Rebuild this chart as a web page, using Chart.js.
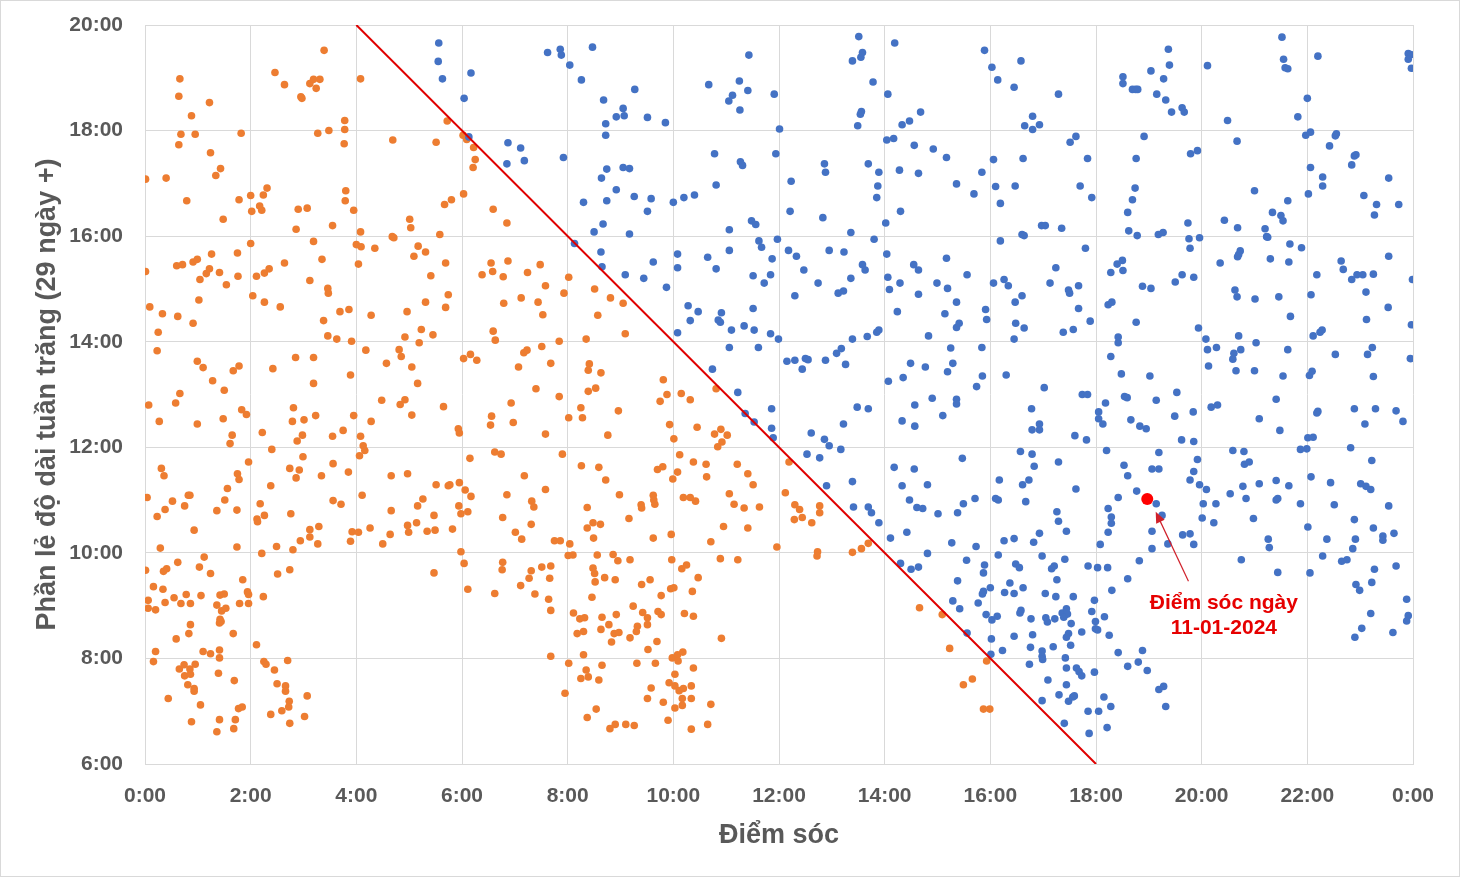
<!DOCTYPE html>
<html>
<head>
<meta charset="utf-8">
<script src="https://cdn.jsdelivr.net/npm/chart.js@4.4.1/dist/chart.umd.min.js"></script>
<style>
  html, body { margin: 0; padding: 0; background: #fff; }
  canvas { display: block; }
</style>
</head>
<body>
<canvas id="moonCanvas" width="1460" height="877"></canvas>
<script>
// Tick labels
const hourLabels = ['0:00', '2:00', '4:00', '6:00', '8:00', '10:00', '12:00', '14:00', '16:00', '18:00', '20:00', '22:00', '0:00'];
const fracLabels = ['6:00', '8:00', '10:00', '12:00', '14:00', '16:00', '18:00', '20:00'];

// [điểm sóc (giờ), phần lẻ độ dài tuần trăng (giờ)]
const orangePoints = [
    [3.39,19.52],[0.66,18.98],[2.46,19.10],[2.64,18.87],[3.12,18.89],[3.19,18.97],[3.31,18.97],[3.24,18.80],[2.95,18.64],[2.97,18.61],
    [0.64,18.65],[1.22,18.53],[0.88,18.28],[0.68,17.93],[0.95,17.93],[1.82,17.95],[0.64,17.73],[1.24,17.58],[3.78,18.19],[3.27,17.95],
    [3.48,18.00],[3.78,18.02],[3.77,17.75],[1.43,17.28],[1.34,17.15],[0.01,17.08],[0.40,17.10],[0.79,16.67],[1.48,16.32],[1.78,16.69],
    [2.00,16.77],[2.17,16.57],[2.21,16.49],[2.02,16.47],[2.24,16.78],[2.31,16.91],[2.90,16.51],[3.07,16.53],[2.86,16.13],[3.55,16.20],
    [3.80,16.86],[3.79,16.67],[3.95,16.49],[3.19,15.90],[2.00,15.86],[0.01,15.33],[0.60,15.44],[0.71,15.46],[0.91,15.51],[0.99,15.56],
    [1.26,15.66],[1.16,15.29],[1.22,15.38],[1.04,15.18],[1.41,15.31],[1.54,15.08],[1.75,15.68],[1.76,15.24],[1.02,14.79],[0.09,14.66],
    [0.33,14.53],[0.62,14.48],[0.25,14.18],[0.91,14.35],[2.04,14.87],[2.11,15.24],[2.26,15.30],[2.35,15.38],[2.26,14.75],[2.56,14.66],
    [2.64,15.49],[3.12,15.16],[3.35,15.56],[3.46,15.01],[3.47,14.92],[3.38,14.40],[3.69,14.57],[3.86,14.61],[3.46,14.11],[3.63,14.05],
    [3.91,14.01],[0.23,13.83],[0.99,13.63],[1.10,13.51],[1.28,13.26],[1.67,13.45],[1.78,13.54],[1.50,13.08],[0.66,13.02],[2.42,13.49],
    [2.85,13.70],[3.19,13.70],[3.19,13.21],[3.89,13.37],
    [0.07,12.80],[0.58,12.84],[0.27,12.49],[0.99,12.44],[1.48,12.54],[1.83,12.71],[1.92,12.62],[1.65,12.23],[1.61,12.07],[2.22,12.28],
    [2.81,12.75],[2.79,12.49],[3.01,12.52],[3.23,12.60],[2.98,12.23],[2.88,12.12],[3.55,12.21],[3.75,12.32],[3.95,12.60],[0.31,11.60],
    [0.36,11.46],[0.04,11.05],[0.23,10.69],[0.38,10.82],[0.52,10.98],[0.75,10.89],[0.82,11.09],[0.85,11.09],[0.93,10.43],[1.36,10.80],
    [1.51,11.00],[1.56,11.22],[1.75,11.50],[1.78,11.39],[1.96,11.72],[1.74,10.81],[0.29,10.09],[1.74,10.11],[2.40,11.96],[2.99,11.82],
    [2.74,11.60],[2.92,11.57],[2.86,11.42],[3.34,11.46],[3.56,11.69],[3.85,11.53],[2.38,11.27],[2.18,10.93],[2.12,10.64],[2.13,10.59],
    [2.26,10.71],[2.76,10.74],[3.56,10.99],[3.71,10.92],[3.12,10.44],[3.29,10.50],[3.12,10.30],[3.27,10.17],[2.94,10.23],[2.80,10.06],
    [2.49,10.12],[2.21,9.99],[3.92,10.40],[3.89,10.22],[0.01,9.67],[0.35,9.65],[0.41,9.70],[0.62,9.82],[1.12,9.92],[1.03,9.73],
    [1.24,9.61],[0.16,9.36],[0.34,9.31],[0.06,9.10],[0.55,9.15],[0.78,9.21],[1.06,9.19],[1.42,9.20],[1.50,9.22],[1.36,9.01],
    [1.45,8.90],[1.53,8.95],[1.85,9.49],[1.94,9.26],[1.96,9.21],[0.06,8.95],[0.20,8.92],[0.38,9.06],[0.68,9.04],[0.86,9.04],
    [1.79,9.04],[1.96,9.04],[0.86,8.64],[0.83,8.47],[0.59,8.37],[1.42,8.74],[1.41,8.67],[1.44,8.70],[1.67,8.47],[0.20,8.13],
    [0.16,7.94],[1.10,8.13],[1.24,8.09],[1.41,8.16],[1.41,8.01],[0.65,7.80],[0.74,7.88],[0.75,7.67],[0.86,7.70],[0.85,7.80],
    [0.95,7.89],[0.81,7.50],[0.93,7.43],[0.93,7.38],[1.39,7.72],[1.69,7.58],[0.44,7.24],[1.05,7.12],[1.77,7.05],[1.84,7.08],
    [0.88,6.80],[1.41,6.84],[1.71,6.84],[1.36,6.61],[1.68,6.67],[2.24,9.17],[2.11,8.26],[2.51,9.60],[2.74,9.68],[2.25,7.94],
    [2.29,7.89],[2.45,7.78],[2.70,7.96],[2.50,7.52],[2.66,7.48],[2.66,7.38],[3.07,7.29],[2.73,7.19],[2.72,7.08],[2.59,7.01],
    [2.38,6.94],[2.74,6.77],[3.02,6.90],
    [4.08,18.98],[5.72,18.18],[4.69,17.82],[5.51,17.78],[6.02,17.91],[6.09,17.83],[6.22,17.68],[6.25,17.45],[6.21,17.30],[6.03,16.80],
    [5.67,16.60],[5.80,16.69],[6.59,16.51],[6.85,16.25],[4.08,16.08],[5.01,16.32],[5.03,16.16],[4.68,15.99],[4.71,15.97],[5.58,16.03],
    [4.00,15.84],[4.09,15.80],[4.35,15.77],[5.17,15.81],[5.09,15.62],[5.31,15.70],[4.04,15.47],[5.69,15.49],[5.41,15.25],[5.74,14.89],
    [5.31,14.75],[5.69,14.65],[4.96,14.57],[4.28,14.50],[4.92,14.09],[5.23,14.23],[5.19,13.98],[5.45,14.13],[4.18,13.84],[4.81,13.85],
    [4.85,13.72],[4.57,13.59],[5.05,13.52],[5.16,13.21],[6.55,15.49],[6.58,15.33],[6.38,15.27],[6.78,15.23],[6.87,15.53],[7.24,15.31],
    [7.48,15.46],[7.58,15.06],[7.44,14.75],[7.53,14.51],[7.12,14.83],[6.79,14.73],[8.02,15.22],[7.93,14.92],[6.59,14.20],[6.63,14.03],
    [6.03,13.68],[6.16,13.76],[6.28,13.65],[7.17,13.79],[7.23,13.84],[7.51,13.91],[7.84,14.01],[7.07,13.52],[7.68,13.59],[7.40,13.11],
    [7.84,12.96],
    [4.48,12.89],[4.83,12.81],[4.92,12.90],[5.05,12.61],[5.65,12.77],[4.28,12.49],[4.08,12.21],[4.13,12.03],[4.16,11.94],[4.06,11.84],
    [5.93,12.35],[5.95,12.27],[6.56,12.59],[6.54,12.42],[6.93,12.84],[6.97,12.47],[7.58,12.25],[8.02,12.56],[6.15,11.79],[6.62,11.91],
    [6.74,11.87],[7.90,11.87],[4.66,11.46],[4.97,11.50],[5.51,11.29],[5.74,11.27],[5.77,11.29],[5.95,11.33],[4.11,11.09],[5.26,11.02],
    [5.16,10.89],[4.66,10.80],[5.47,10.71],[6.06,11.19],[6.17,11.07],[5.94,10.89],[5.98,10.74],[6.11,10.78],[7.18,11.46],[6.85,11.10],
    [7.58,11.20],[7.32,10.98],[7.36,10.87],[6.77,10.67],[7.31,10.54],[7.01,10.39],[7.13,10.26],[4.26,10.47],[4.04,10.39],[4.50,10.17],
    [4.64,10.35],[4.97,10.52],[4.99,10.39],[5.14,10.57],[5.34,10.41],[5.49,10.43],[5.82,10.45],[7.75,10.23],[7.86,10.23],[8.04,10.17],
    [8.01,9.95],[5.98,10.02],[6.04,9.80],[6.11,9.31],[5.47,9.62],[6.77,9.82],[6.76,9.68],[6.62,9.23],[7.31,9.66],[7.27,9.52],
    [7.51,9.73],[7.68,9.75],[7.66,9.52],[7.11,9.38],[7.38,9.22],[7.64,9.12],[7.68,8.91],[7.68,8.04],[8.02,7.91],[7.95,7.34],
    [8.51,15.00],[8.81,14.83],[9.05,14.73],[8.57,14.50],[9.09,14.15],[8.35,14.05],[8.41,13.58],[8.39,13.46],[8.63,13.41],[8.39,13.06],
    [8.53,13.12],[9.81,13.28],[10.81,13.11],
    [9.75,12.87],[9.88,13.00],[10.15,13.02],[10.32,12.90],[8.25,12.75],[8.28,12.56],[8.96,12.69],[8.76,12.23],[9.93,12.43],[10.01,12.16],
    [10.45,12.38],[10.78,12.25],[10.90,12.34],[11.02,12.23],[10.92,12.10],[10.84,12.01],[8.26,11.65],[8.59,11.62],[8.72,11.38],[8.98,11.10],
    [8.37,10.86],[9.16,10.65],[9.39,10.91],[9.40,10.85],[9.62,11.09],[9.63,11.00],[9.65,10.92],[9.70,11.58],[9.80,11.63],[8.37,10.47],
    [8.48,10.57],[8.62,10.54],[8.49,10.28],[8.10,9.96],[9.62,10.28],[9.96,10.35],[10.12,11.86],[10.38,11.72],[10.08,11.53],[9.99,11.40],
    [10.62,11.68],[10.63,11.44],[10.19,11.05],[10.32,11.05],[10.42,10.98],[11.21,11.68],[11.41,11.50],[11.51,11.29],[11.06,11.12],[11.15,10.92],
    [11.34,10.85],[11.63,10.87],[10.95,10.50],[11.41,10.47],[10.71,10.21],[11.96,10.11],[10.89,9.89],[11.22,9.87],[8.56,9.96],[8.86,9.97],
    [8.95,9.85],[9.18,9.87],[8.48,9.71],[8.51,9.61],[8.52,9.45],[8.70,9.53],[8.90,9.49],[8.46,9.16],[9.40,9.40],[9.56,9.49],
    [9.97,9.87],[10.16,9.70],[10.25,9.77],[10.47,9.53],[9.95,9.32],[10.01,9.34],[10.36,9.27],[9.77,9.19],[9.24,8.99],[9.42,8.87],
    [9.51,8.77],[9.71,8.89],[9.77,8.83],[9.51,8.64],[9.32,8.61],[9.30,8.51],[9.18,8.39],[9.69,8.32],[9.52,8.17],[8.11,8.86],
    [8.23,8.75],[8.32,8.77],[8.65,8.78],[8.92,8.83],[8.78,8.64],[8.63,8.55],[8.88,8.47],[8.97,8.49],[8.83,8.31],[8.18,8.47],
    [8.30,8.51],[8.30,8.07],[10.21,8.85],[10.38,8.80],[10.91,8.38],[9.98,8.01],[10.08,8.07],[10.18,8.12],[10.09,7.95],[9.31,7.91],
    [9.66,7.91],[8.65,7.87],[8.35,7.78],[8.25,7.62],[8.39,7.65],[8.59,7.59],[10.38,7.82],[10.03,7.70],[9.92,7.54],[10.03,7.48],
    [10.11,7.39],[10.19,7.43],[10.34,7.48],[9.58,7.44],[9.51,7.24],[9.81,7.17],[10.17,7.24],[10.34,7.24],[10.03,7.06],[10.17,7.11],
    [10.71,7.13],[8.54,7.04],[8.37,6.88],[8.80,6.67],[8.90,6.75],[9.10,6.75],[9.26,6.73],[9.90,6.83],[10.34,6.66],[10.65,6.75],
    [12.19,11.72],[12.12,11.14],[12.30,10.91],[12.39,10.82],[12.29,10.63],[12.44,10.67],[12.62,10.57],[12.77,10.89],[12.77,10.76],[12.73,10.02],
    [12.72,9.94],[13.39,10.01],[13.56,10.08],[13.69,10.18],[14.66,8.96],[15.09,8.83],[15.23,8.19],[15.93,7.95],[15.49,7.50],[15.66,7.61],
    [15.87,7.04],[15.99,7.04]
];

const bluePoints = [
    [5.56,19.66],[5.55,19.31],[5.63,18.98],[6.17,19.09],[6.04,18.61],[7.62,19.48],[7.86,19.54],[7.88,19.43],[6.13,17.88],[6.87,17.77],
    [7.11,17.67],[6.85,17.37],[7.18,17.43],[7.92,17.49],
    [8.47,19.58],[8.04,19.24],[8.26,18.96],[9.27,18.78],[8.68,18.58],[9.05,18.42],[9.07,18.28],[8.92,18.26],[9.51,18.25],[9.85,18.15],
    [8.72,18.13],[8.72,17.91],[11.43,19.43],[10.67,18.87],[11.12,18.67],[11.05,18.56],[11.25,18.94],[11.41,18.76],[11.26,18.39],[11.91,18.69],
    [12.01,18.03],[8.74,17.27],[8.64,17.10],[9.05,17.30],[9.17,17.28],[8.92,16.88],[8.74,16.67],[8.30,16.64],[9.26,16.75],[9.58,16.71],
    [9.51,16.47],[8.67,16.23],[8.50,16.08],[9.17,16.04],[8.13,15.86],[10.00,16.64],[10.20,16.73],[10.40,16.78],[10.78,17.56],[10.81,16.97],
    [11.27,17.41],[11.31,17.34],[11.94,17.56],[11.48,16.29],[11.56,16.22],[11.06,16.12],[11.62,15.91],[11.67,15.79],[11.97,15.94],[8.63,15.70],
    [8.65,15.42],[9.09,15.27],[9.44,15.20],[9.62,15.51],[9.87,15.03],[10.08,15.66],[10.08,15.40],[10.65,15.60],[10.81,15.38],[11.06,15.73],
    [11.87,15.57],[11.84,15.27],[11.72,15.11],[11.51,15.25],[10.28,14.68],[10.47,14.57],[10.32,14.40],[10.91,14.55],[10.85,14.41],[10.89,14.37],
    [11.10,14.22],[11.34,14.30],[11.53,14.22],[11.51,14.63],[11.84,14.15],[11.99,14.05],[10.08,14.17],[11.06,13.89],[11.61,13.89],[10.74,13.48],
    [11.22,13.04],[11.36,12.64],[11.53,12.48],[11.86,12.73],[11.86,12.36],[11.89,12.18],
    [13.51,19.78],[13.39,19.32],[13.55,19.39],[13.58,19.48],[13.78,18.92],[13.56,18.36],[13.54,18.31],[13.49,18.09],[14.19,19.66],[14.06,18.69],
    [14.33,18.11],[14.47,18.18],[14.68,18.35],[15.89,19.52],[16.03,19.20],[14.04,17.82],[14.17,17.85],[14.56,17.72],[14.92,17.65],[15.17,17.49],
    [14.28,17.25],[14.64,17.19],[15.36,16.99],[15.69,16.80],[15.84,17.21],[12.86,17.37],[12.88,17.21],[12.23,17.04],[13.69,17.37],[13.89,17.21],
    [13.87,16.95],[13.85,16.73],[12.21,16.47],[12.83,16.35],[13.36,16.07],[14.02,16.25],[14.30,16.47],[13.80,15.94],[12.18,15.73],[12.33,15.62],
    [12.47,15.36],[12.95,15.73],[13.23,15.70],[12.74,15.11],[12.30,14.87],[13.58,15.46],[13.63,15.36],[13.36,15.20],[13.12,14.92],[13.22,14.96],
    [14.04,15.66],[14.06,15.22],[14.09,14.99],[14.29,15.11],[14.64,14.90],[14.24,14.57],[14.55,15.46],[14.64,15.36],[15.17,15.58],[14.99,15.11],
    [15.19,15.01],[15.56,15.27],[15.36,14.75],[15.14,14.53],[15.36,14.27],[15.41,14.35],[15.91,14.61],[15.93,14.42],[14.83,14.11],[13.39,14.05],
    [13.67,14.10],[13.85,14.18],[13.89,14.22],[12.15,13.63],[12.30,13.65],[12.44,13.48],[12.50,13.68],[12.55,13.66],[12.88,13.65],[13.09,13.78],
    [13.18,13.87],[13.26,13.57],[14.07,13.25],[14.35,13.32],[14.49,13.59],[14.77,13.52],[15.25,13.88],[15.29,13.59],[15.19,13.43],[15.84,13.89],
    [15.85,13.35],[15.74,13.15],
    [13.48,12.76],[13.69,12.73],[13.22,12.44],[12.61,12.27],[12.86,12.15],[12.95,12.03],[13.17,11.96],[12.53,11.87],[12.77,11.80],[12.90,11.27],
    [13.39,11.35],[13.41,10.87],[13.69,10.87],[13.75,10.76],[13.89,10.57],[14.33,12.50],[14.57,12.80],[14.57,12.40],[14.90,12.93],[15.10,12.60],
    [15.36,12.91],[15.36,12.82],[15.47,11.79],[14.18,11.62],[14.56,11.59],[14.33,11.27],[14.81,11.29],[14.47,11.00],[14.61,10.86],[14.72,10.84],
    [15.01,10.74],[15.38,10.76],[15.49,10.93],[15.71,11.03],[14.11,10.28],[14.42,10.39],[14.81,9.99],[15.27,10.19],[15.73,10.12],[15.55,9.86],
    [14.30,9.80],[14.50,9.69],[14.64,9.73],[15.89,9.77],[15.87,9.62],[15.38,9.47],[16.00,9.34],[15.87,9.27],[15.85,9.22],[15.77,9.05],
    [15.29,9.09],[15.42,8.94],[15.92,8.83],[16.03,8.73],[15.56,8.48],[16.02,8.37],[16.01,8.08],
    [16.14,18.96],[16.58,19.32],[16.45,18.82],[17.29,18.69],[16.80,18.27],[16.65,18.09],[16.80,18.02],[16.93,18.11],[19.37,19.54],[19.39,19.24],
    [18.51,19.02],[18.51,18.89],[19.04,19.13],[19.28,18.98],[18.69,18.78],[18.75,18.78],[18.79,18.78],[19.15,18.69],[19.32,18.58],[19.43,18.35],
    [19.63,18.43],[19.67,18.35],[16.06,17.45],[16.62,17.47],[17.51,17.78],[17.62,17.89],[17.84,17.47],[16.10,16.94],[16.47,16.95],[16.19,16.62],
    [17.70,16.95],[17.92,16.73],[16.97,16.20],[17.04,16.20],[17.35,16.15],[16.60,16.03],[16.64,16.01],[16.19,15.91],[18.91,17.89],[18.76,17.47],
    [19.79,17.56],[19.92,17.62],[18.74,16.91],[18.69,16.69],[18.60,16.45],[18.62,16.10],[18.78,16.01],[19.18,16.03],[19.27,16.07],[19.74,16.25],
    [19.76,15.95],[19.96,15.97],[19.78,15.77],[17.80,15.77],[17.24,15.40],[16.06,15.11],[16.26,15.18],[16.34,15.06],[16.60,14.87],[16.47,14.75],
    [17.13,15.11],[17.48,14.98],[17.50,14.92],[17.67,15.06],[17.67,14.63],[16.48,14.35],[16.64,14.26],[16.45,14.05],[17.38,14.18],[17.57,14.23],
    [17.89,14.39],[18.40,15.47],[18.50,15.54],[18.51,15.35],[18.28,15.31],[18.88,15.05],[19.04,15.01],[19.50,15.13],[19.63,15.27],[19.85,15.22],
    [18.23,14.70],[18.30,14.75],[18.76,14.37],[19.94,14.26],[18.42,14.09],[18.42,13.98],[18.28,13.72],[18.48,13.39],[19.02,13.35],[19.53,13.04],
    [18.54,12.96],[18.59,12.94],[16.30,13.37],[17.02,13.13],[17.74,13.00],[17.84,13.00],
    [19.14,12.89],[16.78,12.73],[18.18,12.84],[18.05,12.67],[18.05,12.54],[18.13,12.44],[18.66,12.52],[18.83,12.40],[18.95,12.35],[19.49,12.59],
    [19.84,12.67],[19.62,12.14],[19.85,12.11],[16.79,12.33],[16.93,12.44],[16.93,12.33],[17.60,12.22],[17.82,12.14],[16.57,11.92],[16.79,11.87],
    [16.83,11.64],[17.29,11.72],[16.17,11.38],[16.61,11.29],[16.73,11.38],[16.10,11.03],[16.15,11.00],[16.67,10.97],[17.62,11.21],[17.26,10.78],
    [17.29,10.60],[17.44,10.41],[16.93,10.37],[16.82,10.20],[16.26,10.23],[16.45,10.27],[16.15,9.96],[18.20,11.94],[18.53,11.66],[18.60,11.46],
    [19.06,11.59],[19.19,11.59],[19.19,11.90],[18.42,11.05],[18.77,11.17],[19.14,10.93],[19.25,10.71],[18.23,10.84],[18.29,10.68],[18.29,10.56],
    [18.23,10.39],[18.08,10.16],[19.06,10.41],[19.06,10.08],[19.36,10.17],[19.92,11.77],[19.85,11.54],[19.78,11.38],[19.96,11.29],[20.03,10.93],
    [20.01,10.66],[19.64,10.34],[19.78,10.36],[19.85,10.16],[18.82,9.85],[18.60,9.51],[18.30,9.29],[17.85,9.75],[18.03,9.72],[18.22,9.72],
    [17.41,9.88],[17.21,9.75],[17.16,9.70],[16.98,9.94],[16.48,9.79],[16.55,9.72],[17.26,9.49],[16.37,9.43],[16.27,9.25],[16.45,9.23],
    [16.62,9.34],[17.04,9.23],[17.24,9.17],[17.57,9.17],[17.97,9.10],[17.92,8.89],[17.99,8.70],[18.16,8.79],[17.99,8.56],[18.03,8.54],
    [18.25,8.44],[16.56,8.86],[16.58,8.91],[16.77,8.75],[17.05,8.77],[17.08,8.69],[17.22,8.75],[17.36,8.86],[17.44,8.94],[17.46,8.84],
    [17.39,8.78],[17.53,8.66],[17.73,8.50],[17.48,8.47],[17.44,8.40],[16.13,8.80],[16.23,8.15],[16.45,8.42],[16.80,8.45],[16.76,8.21],
    [16.98,8.14],[16.98,8.04],[16.99,7.98],[17.19,8.22],[17.52,8.25],[17.42,8.01],[16.74,7.89],[17.44,7.82],[17.63,7.82],[17.68,7.75],
    [17.73,7.67],[17.97,7.74],[18.42,8.11],[18.60,7.85],[18.80,7.93],[18.88,8.15],[18.97,7.77],[17.09,7.59],[17.44,7.50],[17.30,7.31],
    [17.48,7.19],[17.56,7.27],[17.59,7.29],[16.98,7.20],[18.15,7.27],[18.28,7.09],[17.85,7.00],[18.05,7.00],[19.19,7.41],[19.28,7.47],
    [19.32,7.09],[17.40,6.77],[17.87,6.58],[18.21,6.69],
    [20.11,19.23],[21.52,19.77],[21.55,19.35],[21.58,19.19],[21.63,19.17],[22.20,19.41],[23.91,19.46],[23.96,19.44],[23.91,19.35],[23.97,19.18],
    [22.00,18.61],[21.82,18.26],[20.49,18.19],[21.97,17.91],[22.06,17.97],[22.55,17.94],[22.53,17.90],[22.42,17.71],[22.89,17.52],[22.92,17.54],
    [22.84,17.35],[20.67,17.80],[22.06,17.30],[22.29,17.12],[22.29,16.95],[22.02,16.80],[23.54,17.10],[23.07,16.77],[23.31,16.60],[23.27,16.40],
    [23.73,16.60],[21.00,16.86],[21.63,16.67],[21.34,16.45],[21.50,16.39],[21.54,16.29],[20.43,16.30],[20.68,16.16],[21.20,16.14],[21.23,15.99],
    [21.25,15.98],[21.67,15.85],[21.89,15.78],[20.68,15.61],[20.73,15.72],[20.70,15.65],[20.35,15.49],[21.30,15.57],[21.65,15.51],[20.63,14.98],
    [20.67,14.85],[21.01,14.81],[21.46,14.85],[21.68,14.48],[20.08,14.05],[20.11,13.85],[20.28,13.89],[20.13,13.54],[20.70,14.11],[20.74,13.85],
    [20.61,13.78],[20.59,13.67],[21.03,13.98],[20.65,13.45],[21.00,13.45],[21.63,13.85],[21.54,13.35],[22.18,15.27],[22.07,14.89],[22.64,15.53],
    [22.68,15.37],[22.84,15.18],[22.94,15.27],[23.05,15.27],[23.25,15.28],[23.54,15.62],[23.11,14.94],[23.53,14.65],[23.12,14.42],[23.99,15.18],
    [23.97,14.32],[22.11,14.11],[22.24,14.18],[22.28,14.22],[22.53,13.76],[23.14,13.76],[23.23,13.89],[23.25,13.34],[23.95,13.68],[22.04,13.36],
    [22.09,13.44],
    [21.41,12.91],[20.18,12.76],[20.30,12.80],[21.09,12.54],[21.48,12.32],[20.59,11.94],[20.80,11.92],[20.81,11.68],[20.90,11.72],[20.09,11.20],
    [20.27,10.93],[20.23,10.57],[20.54,11.12],[20.78,11.26],[20.84,11.03],[21.09,11.31],[20.98,10.65],[21.41,11.37],[21.41,11.00],[21.44,11.03],
    [21.65,11.27],[21.26,10.26],[21.28,10.10],[20.75,9.87],[21.44,9.63],[21.87,11.96],[21.99,11.97],[22.01,12.18],[22.11,12.19],[21.87,10.93],
    [22.07,11.44],[22.01,10.49],[22.20,12.68],[22.18,12.65],[22.89,12.73],[23.29,12.73],[23.09,12.44],[23.68,12.69],[23.81,12.49],[22.82,11.99],
    [23.22,11.75],[22.44,11.33],[22.51,10.91],[23.01,11.31],[23.11,11.26],[23.20,11.20],[23.54,10.89],[22.89,10.63],[22.37,10.26],[22.91,10.26],
    [22.86,10.08],[23.25,10.47],[23.43,10.32],[23.43,10.24],[23.64,10.37],[22.29,9.94],[22.65,9.84],[22.75,9.87],[22.05,9.62],[23.27,9.69],
    [23.68,9.75],[22.92,9.40],[22.99,9.29],[23.22,9.44],[23.88,9.12],[23.20,8.85],[23.03,8.57],[22.90,8.40],[23.62,8.49],[23.91,8.81],
    [23.88,8.71]
];

// Điểm sóc ngày 11-01-2024
const newMoonPoint = [18.97, 11.02];

// red boundary line
const boundaryX = [4, 18];
const boundaryY = [20, 6];

// annotation: arrow tail/tip and text lines
const noteLines = ['Điểm sóc ngày', '11-01-2024'];
const noteTextPos = [20.42, 9.05];
const arrowTail = [19.75, 9.46];
const arrowTip = [19.13, 10.78];

const FONT = "'Liberation Sans', Arial, sans-serif";
const GREY = '#595959';
const GRID = '#d9d9d9';

const toXY = pts => pts.map(p => ({ x: p[0], y: p[1] }));

const framePlugin = {
    id: 'frame',
    beforeDraw(chart) {
        const ctx = chart.ctx;
        ctx.save();
        ctx.fillStyle = '#fff';
        ctx.fillRect(0, 0, chart.width, chart.height);
        ctx.strokeStyle = GRID;
        ctx.lineWidth = 1;
        ctx.strokeRect(0.5, 0.5, chart.width - 1, chart.height - 1);
        ctx.restore();
    }
};

const notePlugin = {
    id: 'note',
    afterDatasetsDraw(chart) {
        const { ctx, scales: { x, y } } = chart;
        const tx = x.getPixelForValue(arrowTail[0]), ty = y.getPixelForValue(arrowTail[1]);
        const hx = x.getPixelForValue(arrowTip[0]), hy = y.getPixelForValue(arrowTip[1]);
        ctx.save();
        ctx.strokeStyle = '#D0202A';
        ctx.fillStyle = '#D0202A';
        ctx.lineWidth = 1.2;
        const ang = Math.atan2(hy - ty, hx - tx);
        const headLen = 12;
        ctx.beginPath();
        ctx.moveTo(tx, ty);
        ctx.lineTo(hx - Math.cos(ang) * headLen * 0.8, hy - Math.sin(ang) * headLen * 0.8);
        ctx.stroke();
        ctx.beginPath();
        ctx.moveTo(hx, hy);
        ctx.lineTo(hx - headLen * Math.cos(ang - 0.4), hy - headLen * Math.sin(ang - 0.4));
        ctx.lineTo(hx - headLen * Math.cos(ang + 0.4), hy - headLen * Math.sin(ang + 0.4));
        ctx.closePath();
        ctx.fill();

        ctx.fillStyle = '#E60000';
        ctx.font = 'bold 21px ' + FONT;
        ctx.textAlign = 'center';
        ctx.textBaseline = 'middle';
        const cx = x.getPixelForValue(noteTextPos[0]);
        const cy = y.getPixelForValue(noteTextPos[1]);
        noteLines.forEach((line, i) => ctx.fillText(line, cx, cy + i * 25));
        ctx.restore();
    }
};

const ctx = document.getElementById('moonCanvas').getContext('2d');
new Chart(ctx, {
    type: 'scatter',
    data: {
        datasets: [
            {
                label: 'Điểm sóc 11-01-2024',
                data: toXY([newMoonPoint]),
                pointRadius: 6,
                pointBorderWidth: 0,
                backgroundColor: '#FF0000',
                borderColor: '#FF0000'
            },
            {
                type: 'line',
                label: 'Ranh giới',
                data: boundaryX.map((v, i) => ({ x: v, y: boundaryY[i] })),
                borderColor: '#E00000',
                borderWidth: 2,
                pointRadius: 0,
                fill: false
            },
            {
                label: 'Blue',
                data: toXY(bluePoints),
                pointRadius: 3.8,
                pointBorderWidth: 0,
                backgroundColor: '#4472C4',
                borderColor: '#4472C4'
            },
            {
                label: 'Orange',
                data: toXY(orangePoints),
                pointRadius: 3.8,
                pointBorderWidth: 0,
                backgroundColor: '#ED7D31',
                borderColor: '#ED7D31'
            }
        ]
    },
    options: {
        responsive: false,
        animation: false,
        devicePixelRatio: 1,
        parsing: false,
        layout: { padding: { top: 25, right: 47, left: 0, bottom: 0 } },
        plugins: {
            legend: { display: false },
            tooltip: { enabled: false }
        },
        scales: {
            x: {
                type: 'linear',
                min: 0,
                max: 24,
                afterFit: s => { s.height = 113; },
                grid: { color: GRID, drawTicks: false, lineWidth: 1 },
                border: { color: GRID },
                ticks: {
                    stepSize: 2,
                    padding: 20,
                    color: GREY,
                    font: { family: FONT, size: 21, weight: 'bold' },
                    callback: v => hourLabels[Math.round(v / 2)]
                },
                title: {
                    display: true,
                    text: 'Điểm sóc',
                    color: GREY,
                    font: { family: FONT, size: 27, weight: 'bold' },
                    padding: { top: 0, bottom: 25 }
                }
            },
            y: {
                type: 'linear',
                min: 6,
                max: 20,
                afterFit: s => { s.width = 145; s.paddingTop = 0; s.paddingBottom = 0; },
                grid: { color: GRID, drawTicks: false, lineWidth: 1 },
                border: { color: GRID },
                ticks: {
                    stepSize: 2,
                    padding: 22,
                    color: GREY,
                    font: { family: FONT, size: 21, weight: 'bold' },
                    callback: v => fracLabels[Math.round((v - 6) / 2)]
                },
                title: {
                    display: true,
                    text: 'Phần lẻ độ dài tuần trăng (29 ngày +)',
                    color: GREY,
                    font: { family: FONT, size: 27, weight: 'bold' },
                    padding: { top: 31, bottom: 0 }
                }
            }
        }
    },
    plugins: [framePlugin, notePlugin]
});
</script>
</body>
</html>
